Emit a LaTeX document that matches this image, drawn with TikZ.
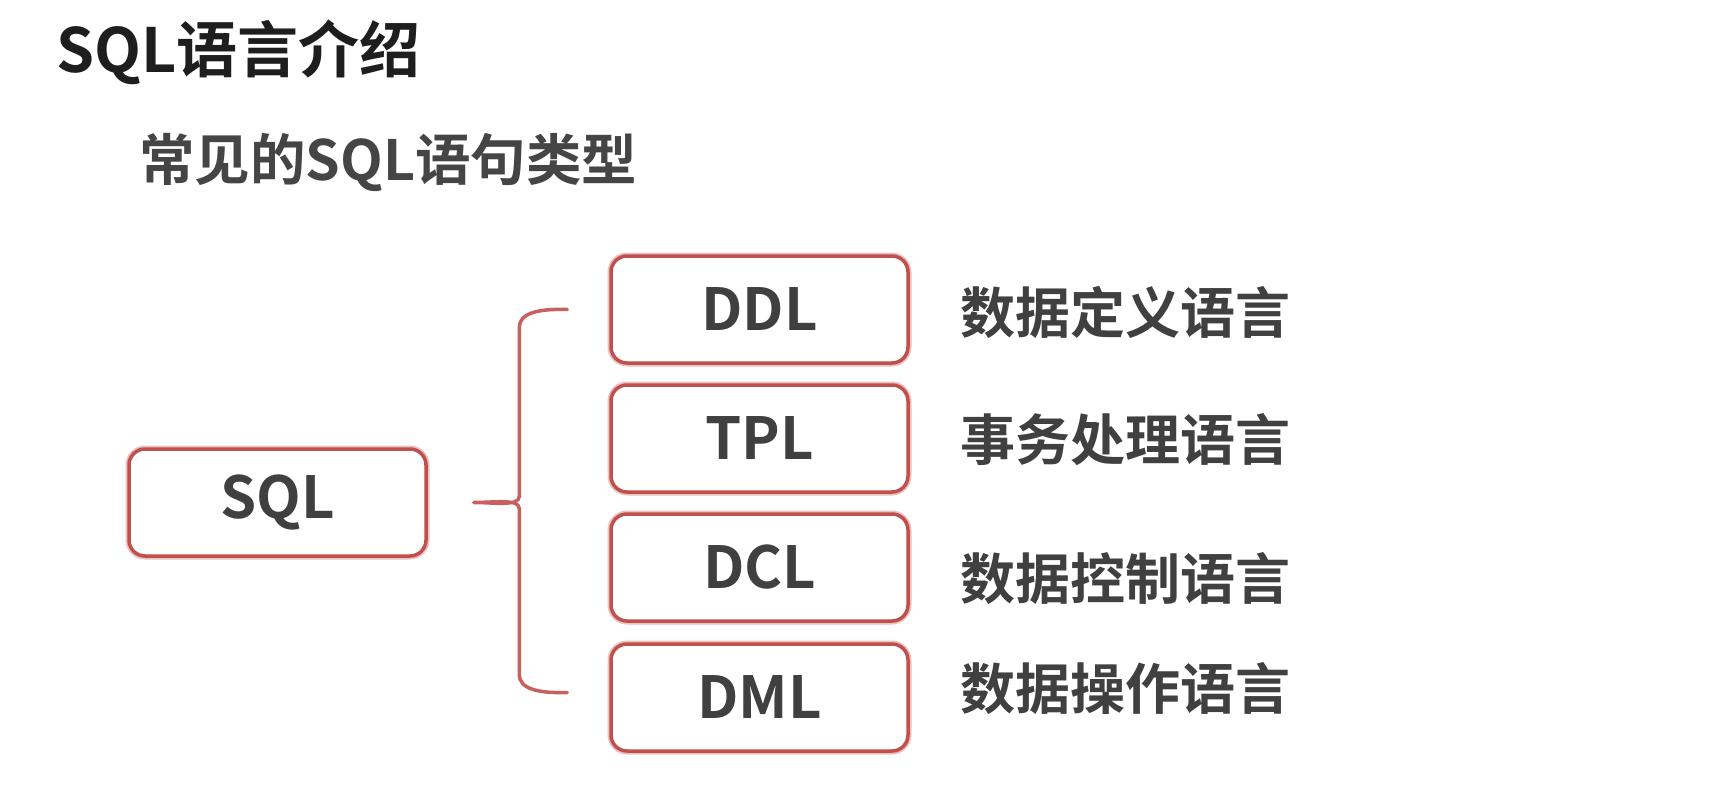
\documentclass[tikz,border=0pt]{standalone}
\usepackage{fontspec}
\setmainfont{Noto Sans CJK SC}[BoldFont={Noto Sans CJK SC Bold}]
\definecolor{boxred}{HTML}{C0504D}
\definecolor{txtgray}{HTML}{404040}
\definecolor{titleblack}{HTML}{1E1E1E}
\definecolor{subgray}{HTML}{454545}
\begin{document}
\begin{tikzpicture}[x=1pt,y=-1pt,
  sqlbox/.style={draw=boxred,line width=3.5pt,rounded corners=16pt,fill=white,
    minimum width=297pt,minimum height=107pt,inner sep=0pt,text=txtgray,
    font=\fontsize{58}{58}\selectfont\bfseries,
    preaction={draw=boxred!35,line width=7pt}},
  lbl/.style={anchor=west,inner sep=0pt,text=txtgray,font=\fontsize{55}{55}\selectfont\bfseries},
  bracestyle/.style={draw=boxred!90,line width=3.5pt,line cap=round,line join=round}]
\useasboundingbox (0,0) rectangle (1714,792);
\fill[white] (0,0) rectangle (1714,792);
\node[anchor=west,inner sep=0pt,text=titleblack,font=\fontsize{61}{61}\selectfont\bfseries] (title) at (56,52) {SQL语言介绍};
\node[anchor=west,inner sep=0pt,text=subgray,font=\fontsize{55.5}{55.5}\selectfont\bfseries] (sub) at (139,162) {常见的SQL语句类型};
\node[sqlbox] (sql) at (277.5,502.5) {SQL};
\node[sqlbox] (ddl) at (759.5,309.5) {DDL};
\node[sqlbox] (tpl) at (759.5,438.5) {TPL};
\node[sqlbox] (dcl) at (759.5,567.5) {DCL};
\node[sqlbox] (dml) at (759.5,697.5) {DML};
\node[lbl] (l1) at (960,312) {数据定义语言};
\node[lbl] (l2) at (960,440) {事务处理语言};
\node[lbl] (l3) at (960,579) {数据控制语言};
\node[lbl] (l4) at (960,689) {数据操作语言};
\coordinate (btop) at ([xshift=-42pt]ddl.west);
\coordinate (bbot) at ([xshift=-42pt,yshift=5pt]dml.west);
\coordinate (btip) at ([xshift=46pt]sql.east);
\draw[bracestyle] (btop) .. controls +(-30,-1) and +(0,-14) .. ([xshift=-48pt,yshift=-18pt]btop)
  -- ([xshift=-48pt,yshift=6pt]btip -| btop)
  .. controls +(0,10) and +(20,0) .. (btip)
  .. controls +(20,0) and +(0,-10) .. ([xshift=-48pt,yshift=-6pt]btip -| btop)
  -- ([xshift=-48pt,yshift=18pt]bbot)
  .. controls +(0,14) and +(-30,1) .. (bbot);
\end{tikzpicture}
\end{document}
